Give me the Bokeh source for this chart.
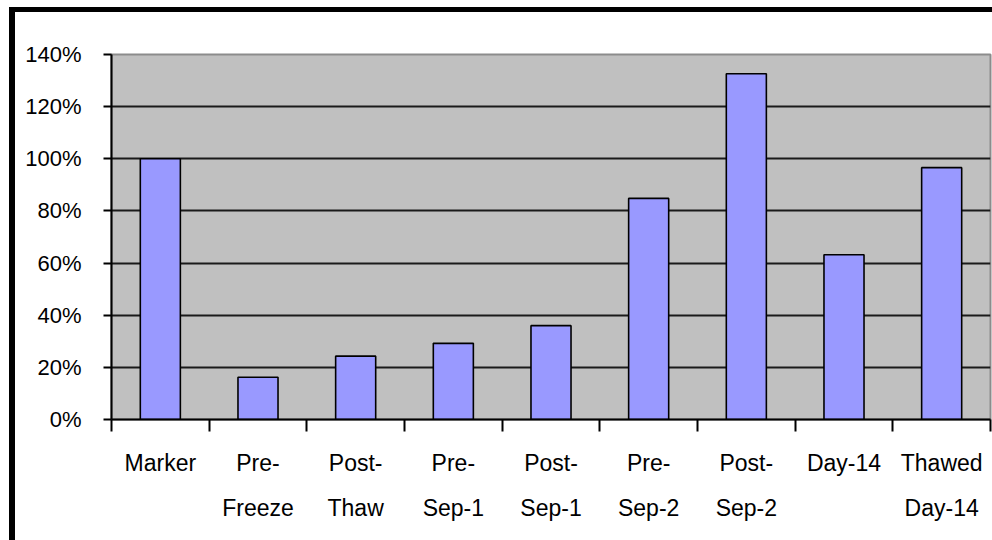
from bokeh.plotting import figure
from bokeh.models import Range1d, FixedTicker, PrintfTickFormatter
from bokeh.embed import file_html
from bokeh.resources import INLINE

categories = ["Marker", "Pre-\nFreeze", "Post-\nThaw", "Pre-\nSep-1", "Post-\nSep-1",
              "Pre-\nSep-2", "Post-\nSep-2", "Day-14", "Thawed\nDay-14"]
values = [100, 16.2, 24.3, 29.2, 36.0, 84.8, 132.6, 63.2, 96.6]
y_ticks = [0, 20, 40, 60, 80, 100, 120, 140]

n = len(categories)
centers = [i + 0.5 for i in range(n)]
bounds = list(range(n + 1))

p = figure(width=992, height=540, output_backend="svg", toolbar_location=None,
           x_range=Range1d(0, n), y_range=Range1d(0, 140),
           min_border_left=111, min_border_right=2, min_border_top=54, min_border_bottom=121)
p.styles = {"box-shadow": "inset 9px 7px 0 0 white, inset 15px 12px 0 0 black",
            "background-color": "white"}

p.background_fill_color = "#C0C0C0"
p.border_fill_alpha = 0
p.outline_line_color = "#8c8c8c"
p.outline_line_width = 2

p.vbar(x=centers, top=values, bottom=0, width=0.41,
       fill_color="#9999FF", line_color="black", line_width=1.6)

font = "Liberation Sans"

# x axis
xa = p.xaxis[0]
xa.ticker = FixedTicker(ticks=centers, minor_ticks=bounds)
xa.major_label_overrides = {c: lab for c, lab in zip(centers, categories)}
xa.major_tick_line_color = None
xa.major_tick_in = 0
xa.major_tick_out = 0
xa.minor_tick_in = 0
xa.minor_tick_out = 12
xa.minor_tick_line_color = "black"
xa.minor_tick_line_width = 2
xa.axis_line_color = "black"
xa.axis_line_width = 2
xa.major_label_standoff = 18
xa.major_label_text_font = font
xa.major_label_text_font_size = "23px"
xa.major_label_text_color = "black"
xa.major_label_text_line_height = 1.75

# y axis
ya = p.yaxis[0]
ya.ticker = FixedTicker(ticks=y_ticks)
ya.formatter = PrintfTickFormatter(format="%d%%")
ya.major_tick_in = 0
ya.major_tick_out = 8
ya.major_tick_line_color = "black"
ya.major_tick_line_width = 2
ya.minor_tick_line_color = None
ya.axis_line_color = "black"
ya.axis_line_width = 2
ya.major_label_standoff = 22
ya.major_label_text_font = font
ya.major_label_text_font_size = "22px"
ya.major_label_text_color = "black"

p.xgrid.grid_line_color = None
p.ygrid.ticker = FixedTicker(ticks=y_ticks[1:-1])
p.ygrid.grid_line_color = "#1a1a1a"
p.ygrid.grid_line_width = 2

open("out.html", "w").write(file_html(p, INLINE))
